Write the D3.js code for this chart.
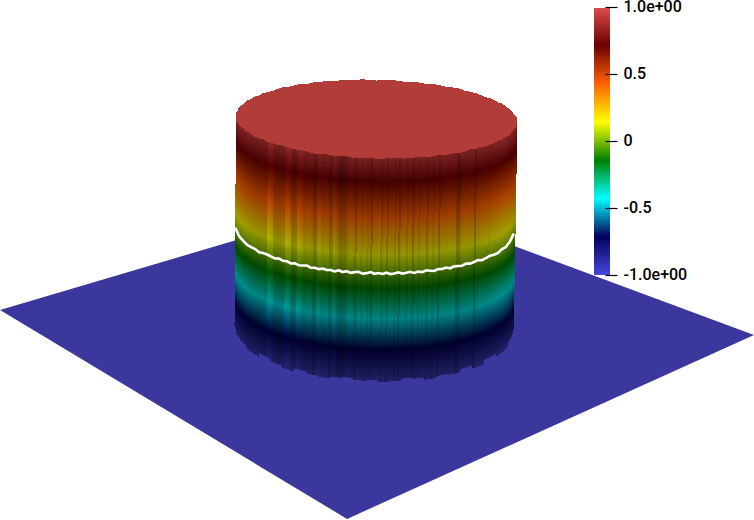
<!DOCTYPE html>
<html>
<head>
<meta charset="utf-8">
<script src="https://cdn.jsdelivr.net/npm/d3@7"></script>
<style>
    html, body { margin: 0; padding: 0; background: #fff; }
    svg { display: block; }
    .tick text { font-family: Roboto, sans-serif; font-weight: 500; font-size: 16px; fill: #000; }
    .tick line { stroke: #000; stroke-width: 1.2px; }
</style>
</head>
<body>
<svg id="chart" width="754" height="520"></svg>
<script>
// colormap control points (Rainbow Desaturated), value -> colour
var mapValues = [-1, -0.714, -0.428, -0.143, 0.143, 0.428, 0.714, 1];
var mapColors = ['#4747db', '#00005c', '#00ffff', '#008000', '#ffff00', '#ff6100', '#6b0000', '#e04d4d'];

// legend
var tickValues = [1, 0.5, 0, -0.5, -1];
var tickLabels = ['1.0e+00', '0.5', '0', '-0.5', '-1.0e+00'];

// plate corners in plate coordinates
var plateU = [0, 1, 1, 0];
var plateV = [0, 0, 1, 1];

// darkening of each facet of the cylinder wall, read left to right
var stripShade = [
    .30, .30, .30, .30, .31, .31, .32, .32, .33, .33, .34, .34, .34, .34, .35, .35,
    .22, .22, .24, .36, .37, .37, .37, .36, .36, .24, .24, .26, .40, .40, .38,
    .26, .26, .30, .36, .35, .34, .34, .35, .44, .44, .30, .30, .35, .35, .34, .34,
    .44, .42, .30, .34, .40, .46, .46, .44, .44, .36, .34, .34, .36, .46,
    .35, .34, .38, .35, .34, .40, .36, .46, .35, .34, .35, .32, .42, .36, .34,
    .44, .34, .35, .35, .41, .34, .46, .35, .34, .34, .41, .34, .35, .46, .35,
    .34, .41, .34, .35, .34, .44, .35, .34, .40, .35, .34, .46, .35,
    .34, .34, .35, .34, .34, .34, .34, .46, .46, .36, .34, .34, .34, .34, .34, .34,
    .46, .34, .34, .33, .33, .32, .32, .34, .31, .31, .30, .30, .30, .30, .29, .29,
    .29, .30, .30, .32, .34
];

// steps along the foot of the wall, px
var footJag = [-2, 1, -3, 0, 2, -1, 1, 2, 0, -1, 1, 0, 2, 1, -1, 0, 2, 0, 1, -2, 1, -3, 0, -4];

// unevenness of the top rim, px, every 3 degrees
var rimJag = [
    0, 1, -1, 1.2, 0, -1.2, .8, 1.5, -.6, .4, -1.2, 1, 0, 1.4, -.8, .6, -1.4, .8, 1.6, -.4,
    1, -1, .4, 1.6, -.8, .8, 1.8, 0, -1, 1.2, 1.8, -.6, .8, 2, -.4, 1, 1.8, -.8, 1.4, 2.2,
    0, -1.2, 1.6, .4, -1, 1.2, 0, 1.6, -1.2, .8, 2, -.6, .4, 1.8, -1, .8, 1.6, -.4, 1.2, 0,
    -1.2, 1.4, .4, -.8, 1, 1.6, -1, .4, 1.2, -.6, .8, -.8, 1.2, 0, -1, .8, 1.6, -.4, .6, 1.4,
    -.8, 1, 0, 1.6, -1, .6, 1.2, -.6, 1.4, .2, -1.2, .8, 1.6, 0, -.8, 1.2, .4, -1, 1.4, .6,
    -.6, 1, 1.6, -.8, .4, 1.2, 0, -1, 1, .6, -1.2, 1.4, .2, -.6, 1.2, .8, -1, .4, 1.4, -.4
];

// unevenness of the zero contour, px
var contourJag = [
    -3, -2, -1.5, -.5, -1, -1.2, 0, -1, -1, -.5, 0, -1, 0, -.6, .6, -.6, .6, 0, -.8, .6,
    0, .8, -.4, .6, 0, 1, -.6, .8, -.4, 1, 0, -.6, 1, .4, -.8, .8, 0, .8, -.4, 1,
    .6, -.6, .8, .2, -.6, .8, -.2, .6, -.8, 0, .8, -.6, -.2, -1, .4, -.8, -.4, .2, -1, 0,
    -.6, -1.2, .2, -.4, -1.4, -.6, -.2, -1.6, -1, -2.4, -3
];

var width = 754, height = 520;
var svg = d3.select('#chart');
var defs = svg.append('defs');

var color = d3.scaleLinear().domain(mapValues).range(mapColors).interpolate(d3.interpolateRgb);

// plate camera: homography of the unit square
var cam = { a: 263.9, b: 456.5, c: 0, d: 84.6, e: -74.6, f: 310, g: -.2396, h: .195 };
function projectPlate(u, v) {
    var w = cam.g * u + cam.h * v + 1;
    return [(cam.a * u + cam.b * v + cam.c) / w, (cam.d * u + cam.e * v + cam.f) / w];
}

// cylinder section at field value z (the rim is at .9, the rim face is cut off there)
var rimZ = 0.9;
var ringDomain = [-1, 0, rimZ];
var ringCx = d3.scaleLinear().domain(ringDomain).range([374, 374.5, 376.5]);
var ringCy = d3.scaleLinear().domain(ringDomain).range([330, 231, 119]);
var ringRx = d3.scaleLinear().domain(ringDomain).range([139.5, 139.5, 140.5]);
var ringRy = d3.scaleLinear().domain(ringDomain).range([50, 42, 39]);
var tilt = 0.021;

// f runs -1..1 across the visible wall
function wallPoint(f, z) {
    var dx = f * ringRx(z);
    return [ringCx(z) + dx, ringCy(z) + ringRy(z) * Math.sqrt(Math.max(0, 1 - f * f)) + tilt * dx];
}

// plate
var platePts = plateU.map(function (u, i) { return projectPlate(u, plateV[i]); });
svg.append('path')
    .attr('d', d3.line().curve(d3.curveLinearClosed)(platePts))
    .attr('fill', '#3b379c');

// wall, one facet at a time
var stripScale = d3.scaleBand().domain(d3.range(stripShade.length)).range([-1, 1]);
var lightByValue = d3.scaleLinear().domain([-1, 1]).range([.68, 1.04]);
var wall = svg.append('g').attr('shape-rendering', 'crispEdges');

stripShade.forEach(function (shade, i) {
    var f0 = stripScale(i), f1 = f0 + stripScale.bandwidth();
    var fm = (f0 + f1) / 2;
    var top = wallPoint(fm, 1), bottom = wallPoint(fm, -1);
    var id = 'strip-' + i;

    var grad = defs.append('linearGradient')
        .attr('id', id)
        .attr('gradientUnits', 'userSpaceOnUse')
        .attr('x1', top[0]).attr('y1', top[1])
        .attr('x2', bottom[0]).attr('y2', bottom[1]);

    mapValues.slice().reverse().forEach(function (v) {
        var c = d3.rgb(color(v));
        var k = (1 - shade) * lightByValue(v);
        var y = wallPoint(fm, v)[1];
        grad.append('stop')
            .attr('offset', (y - top[1]) / (bottom[1] - top[1]))
            .attr('stop-color', d3.rgb(c.r * k, c.g * k, c.b * k));
    });

    // tops run a little under the face so its uneven edge shows no gap
    var tuck = 4 * Math.sqrt(Math.max(0, 1 - fm * fm));
    var foot = footJag[Math.floor(i / 6)] || 0;
    var a = wallPoint(f0, rimZ), b = wallPoint(f1 + .003, rimZ);
    var c = wallPoint(f1 + .003, -1), d = wallPoint(f0, -1);
    wall.append('path')
        .attr('d', d3.line()([[a[0], a[1] - tuck], [b[0], b[1] - tuck], [c[0], c[1] + foot], [d[0], d[1] + foot]]) + 'Z')
        .attr('fill', 'url(#' + id + ')');
});

// zero contour
var contourScale = d3.scaleLinear().domain([0, contourJag.length - 1]).range([-.998, .998]);
var contourPts = contourJag.map(function (jag, i) {
    var p = wallPoint(contourScale(i), 0);
    return [p[0], p[1] + jag];
});
svg.append('path')
    .attr('d', d3.line()(contourPts))
    .attr('fill', 'none')
    .attr('stroke', '#fff')
    .attr('stroke-width', 2.6);

// top face
var rimAngle = d3.scaleLinear().domain([0, rimJag.length]).range([0, 2 * Math.PI]);
var rimPts = rimJag.map(function (jag, i) {
    var t = rimAngle(i);
    var rx = ringRx(rimZ) + jag * .45, ry = ringRy(rimZ) + jag * .45;
    return [ringCx(rimZ) + rx * Math.cos(t), ringCy(rimZ) + ry * Math.sin(t) + tilt * rx * Math.cos(t)];
});
svg.append('path')
    .attr('d', d3.line().curve(d3.curveLinearClosed)(rimPts))
    .attr('shape-rendering', 'crispEdges')
    .attr('fill', '#b23c38');

// colour legend
var legendY = d3.scaleLinear().domain([-1, 1]).range([275, 7]);

var legendGrad = defs.append('linearGradient')
    .attr('id', 'legend-grad')
    .attr('gradientUnits', 'userSpaceOnUse')
    .attr('x1', 0).attr('x2', 0)
    .attr('y1', legendY(1)).attr('y2', legendY(-1));
mapValues.slice().reverse().forEach(function (v) {
    legendGrad.append('stop')
        .attr('offset', (1 - v) / 2)
        .attr('stop-color', color(v));
});

svg.append('rect')
    .attr('x', 594)
    .attr('y', legendY(1) + 1)
    .attr('width', 16)
    .attr('height', legendY(-1) - legendY(1) - 1)
    .attr('fill', 'url(#legend-grad)');

var axis = d3.axisRight(legendY)
    .tickValues(tickValues)
    .tickSize(12)
    .tickPadding(6)
    .tickFormat(function (d, i) { return tickLabels[i]; });

svg.append('g')
    .attr('transform', 'translate(605.5,0)')
    .call(axis)
    .call(function (g) { g.select('.domain').remove(); })
    .call(function (g) { g.selectAll('.tick text').attr('dy', '0.3em'); });
</script>
</body>
</html>
